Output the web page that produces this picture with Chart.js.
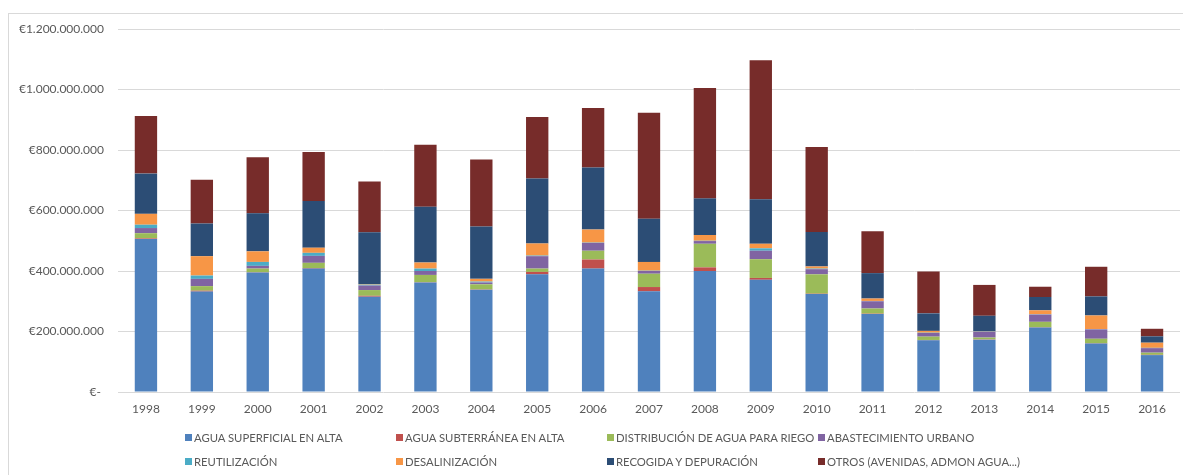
<!DOCTYPE html>
<html>
<head>
<meta charset="utf-8">
<script src="https://cdn.jsdelivr.net/npm/chart.js@4/dist/chart.umd.min.js"></script>
<style>
  html, body { margin: 0; padding: 0; background: #fff; overflow: hidden; }
  #wrap { position: relative; width: 1183px; height: 475px; }
  #frame { position: absolute; left: 8px; top: 13px; width: 1200px; height: 500px; border: 1px solid #d9d9d9; }
  #chart { position: absolute; left: 0; top: 0; }
  #legend { position: absolute; left: 0; top: 0; width: 1183px; height: 475px; font: 11.3px Lato, "Open Sans", sans-serif; color: #595959; }
  .item { position: absolute; white-space: nowrap; line-height: 14px; }
  .item i { display: inline-block; width: 7px; height: 7px; margin-right: 2px; vertical-align: 1px; }
</style>
</head>
<body>
<div id="wrap">
  <div id="frame"></div>
  <canvas id="chart" width="1183" height="475"></canvas>
  <div id="legend"></div>
</div>
<script>
// inversion por año, en millones de euros
var years = ["1998", "1999", "2000", "2001", "2002", "2003", "2004", "2005", "2006", "2007",
    "2008", "2009", "2010", "2011", "2012", "2013", "2014", "2015", "2016"];
var aguaSuperficial = [506, 332, 395, 408, 315, 362, 338, 389, 408, 333, 400, 371, 324, 258, 171, 173, 213, 160, 122];
var aguaSubterranea = [2, 3, 1, 2, 3, 1, 1, 8, 30, 14, 12, 6, 1, 1, 1, 1, 1, 1, 1];
var distribucionRiego = [17, 15, 12, 17, 19, 24, 17, 11, 29, 44, 78, 62, 64, 17, 11, 6, 18, 15, 7];
var abastecimientoUrbano = [17, 24, 9, 23, 15, 13, 6, 41, 26, 9, 9, 28, 17, 24, 12, 19, 24, 31, 15];
var reutilizacion = [11, 11, 13, 10, 3, 8, 3, 2, 1, 1, 1, 8, 2, 1, 1, 1, 1, 1, 1];
var desalinizacion = [36, 64, 35, 17, 2, 20, 9, 40, 43, 29, 19, 15, 7, 8, 6, 1, 13, 45, 17];
var recogidaDepuracion = [133, 108, 126, 154, 171, 184, 173, 215, 205, 143, 121, 147, 114, 84, 58, 51, 44, 63, 21];
var otros = [190, 145, 185, 162, 168, 205, 222, 203, 197, 350, 365, 460, 281, 138, 138, 102, 34, 98, 25];

var yTicks = [0, 200000000, 400000000, 600000000, 800000000, 1000000000, 1200000000];

var series = [
    ["AGUA SUPERFICIAL EN ALTA", aguaSuperficial, "#4f81bd"],
    ["AGUA SUBTERRÁNEA EN ALTA", aguaSubterranea, "#c0504d"],
    ["DISTRIBUCIÓN DE AGUA PARA RIEGO", distribucionRiego, "#9bbb59"],
    ["ABASTECIMIENTO URBANO", abastecimientoUrbano, "#8064a2"],
    ["REUTILIZACIÓN", reutilizacion, "#4bacc6"],
    ["DESALINIZACIÓN", desalinizacion, "#f79646"],
    ["RECOGIDA Y DEPURACIÓN", recogidaDepuracion, "#2c4d75"],
    ["OTROS (AVENIDAS, ADMON AGUA...)", otros, "#772c2a"]
];

function euros(v) {
    if (v === 0) return "€- ";
    return "€" + String(v).replace(/\B(?=(\d{3})+(?!\d))/g, ".");
}

var tickFont = { family: "Lato, 'Open Sans', sans-serif", size: 12 };

var ctx = document.getElementById("chart").getContext("2d");
var chart = new Chart(ctx, {
    type: "bar",
    data: {
        labels: years,
        datasets: series.map(function (s) {
            return {
                label: s[0],
                data: s[1].map(function (v) { return v * 1000000; }),
                backgroundColor: s[2],
                borderWidth: 0,
                barPercentage: 0.4,
                categoryPercentage: 1
            };
        })
    },
    options: {
        responsive: false,
        animation: false,
        layout: { padding: { left: 0, right: 3, top: 29, bottom: 0 } },
        plugins: { legend: { display: false }, tooltip: { enabled: false } },
        scales: {
            x: {
                stacked: true,
                grid: { display: false, drawTicks: false },
                border: { display: false },
                ticks: { color: "#595959", font: tickFont, padding: 10, maxRotation: 0 },
                afterFit: function (s) { s.height = 83; }
            },
            y: {
                stacked: true,
                min: 0,
                max: 1200000000,
                grid: { color: "#d9d9d9", lineWidth: 1, drawTicks: false },
                border: { display: false },
                afterBuildTicks: function (s) {
                    s.ticks = yTicks.map(function (v) { return { value: v }; });
                },
                ticks: { color: "#595959", font: tickFont, padding: 14, callback: euros },
                afterFit: function (s) { s.width = 118; }
            }
        }
    }
});

// leyenda en dos filas de cuatro columnas
var legend = document.getElementById("legend");
series.forEach(function (s, i) {
    var el = document.createElement("div");
    el.className = "item";
    el.style.left = (185 + (i % 4) * 211) + "px";
    el.style.top = (i < 4 ? 431 : 455) + "px";
    el.innerHTML = '<i style="background:' + s[2] + '"></i>' + s[0];
    legend.appendChild(el);
});
</script>
</body>
</html>
